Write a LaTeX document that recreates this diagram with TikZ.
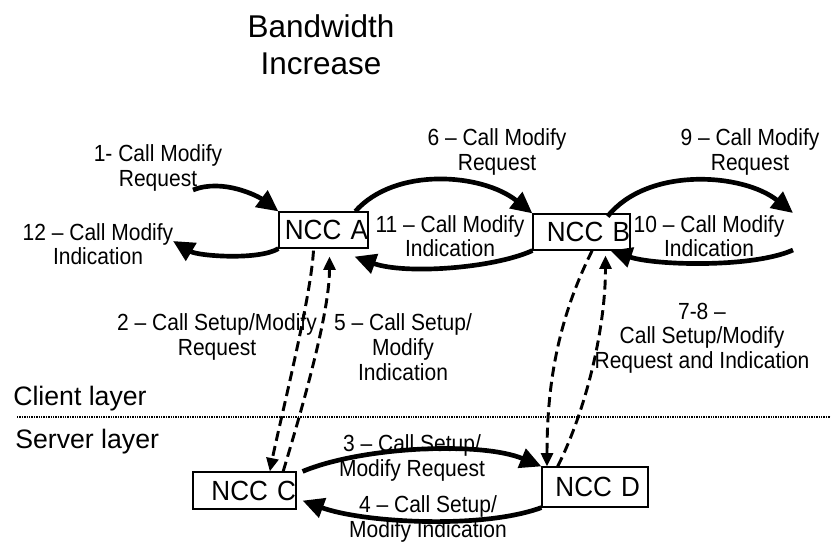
\documentclass[tikz,border=0pt]{standalone}
\usepackage{fontspec}
\setmainfont{Liberation Sans}
\newfontfamily\narrowfont{Liberation Sans}[FakeStretch=0.9]
\newfontfamily\nccfont{Liberation Sans}[FakeStretch=0.94]
\usetikzlibrary{arrows.meta}

\begin{document}
\begin{tikzpicture}[
    x=0.75pt, y=-0.75pt,
    ncc/.style={rectangle, draw, line width=0.9pt, inner sep=0pt, align=right, font=\nccfont\fontsize{20.8}{23}\selectfont},
    lbl/.style={align=center, inner sep=0pt, font=\narrowfont\fontsize{17.5}{18.5}\selectfont},
    layer/.style={anchor=base west, inner sep=0pt, font=\fontsize{20}{24}\selectfont},
    arrow/.style={line width=3.5pt, -{Triangle[length=16pt,width=15pt]}},
    dasharrow/.style={line width=2.2pt, dash pattern=on 7.5pt off 4pt, -{Triangle[length=10pt,width=9pt]}}
]
    \useasboundingbox (0,0) rectangle (831,542);

    \node[align=center, inner sep=0pt, font=\fontsize{23.6}{27.75}\selectfont] (title) at (321,45) {Bandwidth\\Increase};

    % network call controllers
    \node[ncc, text width=66.75pt, minimum height=27pt] (nccA) at (323.5,230) {NCC A};
    \node[ncc, text width=72.75pt, minimum height=27pt] (nccB) at (581.5,232) {NCC B};
    \node[ncc, text width=77.25pt, minimum height=27.75pt] (nccC) at (244.5,490.5) {NCC C};
    \node[ncc, inner xsep=6pt, text width=67.5pt, minimum height=30pt] (nccD) at (595,487) {NCC D};

    \coordinate (in1) at (193,190);
    \coordinate (out12) at (173,241);
    \coordinate (out9) at (793,213);
    \coordinate (in10) at (793,250);
    \coordinate (lineL) at (17,417);
    \coordinate (lineR) at (831,417);

    % client layer messages
    \draw[arrow] (in1) .. controls +(30,-12) and +(-20,-15) .. (nccA.north west);
    \draw[arrow] (nccA.south west) .. controls +(-20,12) and +(25,15) .. (out12);
    \draw[arrow] ([xshift=-10pt]nccA.north east) .. controls +(40,-45) and +(-50,-40) .. (nccB.north west);
    \draw[arrow] (nccB.south west) .. controls +(-40,18) and +(50,18) .. ([shift={(-14,8)}]nccA.south east);
    \draw[arrow] ([shift={(-23,3)}]nccB.north east) .. controls +(40,-50) and +(-50,-40) .. (out9);
    \draw[arrow] (in10) .. controls +(-40,18) and +(45,15) .. ([shift={(-20,0)}]nccB.south east);

    % client to server
    \draw[dasharrow] ([shift={(-10,2)}]nccA.south) .. controls +(-3,50) and +(10,-50) .. ([xshift=19pt]nccC.north);
    \draw[dasharrow] ([xshift=29pt]nccC.north) .. controls +(15,-50) and +(0,60) .. ([shift={(6,8)}]nccA.south);
    \draw[dasharrow] ([xshift=8pt]nccB.south) .. controls +(-35,70) and +(0,-80) .. ([xshift=-36pt]nccD.north);
    \draw[dasharrow] ([xshift=-28pt]nccD.north) .. controls +(30,-60) and +(0,70) .. ([shift={(24,5)}]nccB.south);

    % server layer messages
    \draw[arrow] ([shift={(6,0)}]nccC.north east) .. controls +(60,-25) and +(-60,-25) .. (nccD.north west);
    \draw[arrow] (nccD.south west) .. controls +(-60,22) and +(60,22) .. ([shift={(6,-9)}]nccC.south east);

    \draw[line width=1.3pt, dash pattern=on 1pt off 0.8pt] (lineL) -- (lineR);
    \node[layer] (client) at (13,405) {Client layer};
    \node[layer] (server) at (15,448) {Server layer};

    \node[lbl] (m1) at (158,168) {1- Call Modify\\Request};
    \node[lbl] (m12) at (98,244) {12 – Call Modify\\Indication};
    \node[lbl] (m6) at (497,152) {6 – Call Modify\\Request};
    \node[lbl] (m11) at (450,236) {11 – Call Modify\\Indication};
    \node[lbl] (m9) at (750,152) {9 – Call Modify\\Request};
    \node[lbl] (m10) at (709,236) {10 – Call Modify\\Indication};
    \node[lbl] (m2) at (217,337) {2 – Call Setup/Modify\\Request};
    \node[lbl] (m5) at (403,347) {5 – Call Setup/\\Modify\\Indication};
    \node[lbl] (m78) at (702,338) {7-8 –\\Call Setup/Modify\\Request and Indication};
    \node[lbl] (m3) at (412,458) {3 – Call Setup/\\Modify Request};
    \node[lbl] (m4) at (428,519) {4 – Call Setup/\\Modify Indication};
\end{tikzpicture}
\end{document}
